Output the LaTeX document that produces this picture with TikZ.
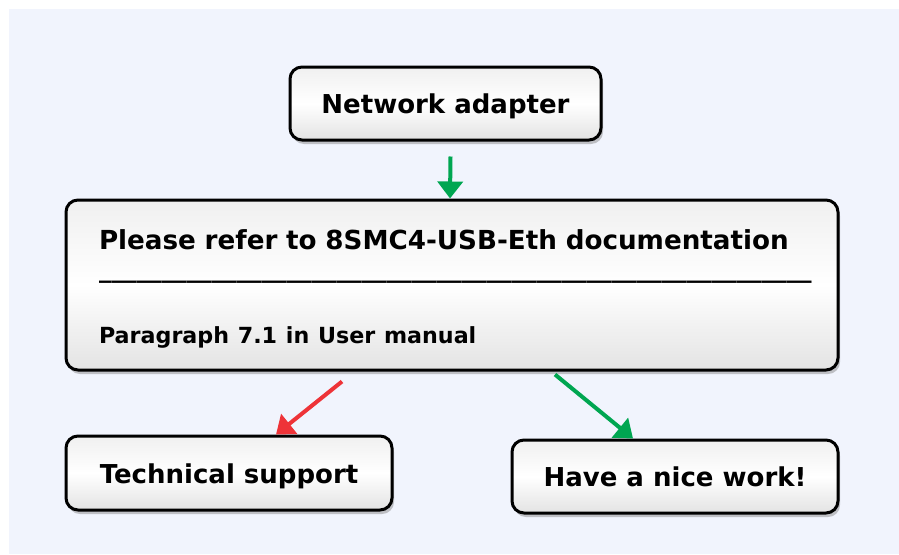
\documentclass[tikz,border=0pt]{standalone}
\usepackage{fontspec}
\setmainfont{DejaVu Sans}
\usetikzlibrary{arrows.meta}
\usetikzlibrary{positioning}
\usetikzlibrary{shadows}
\usepackage{xcolor}
\definecolor{paleblue}{HTML}{F1F4FD}
\definecolor{okgreen}{HTML}{00A651}
\definecolor{failred}{HTML}{EE3338}
\newcommand{\sepline}{\_\_\_\_\_\_\_\_\_\_\_\_\_\_\_\_\_\_\_\_\_\_\_\_\_\_\_\_\_\_\_\_\_\_\_\_\_\_\_\_\_\_\_\_\_\_\_\_\_\_\_\_\_\_\_\_\_}

\begin{document}
\begin{tikzpicture}[
        x=1pt, y=1pt,
        box/.style={draw=black, line width=3pt, rounded corners=12pt,
          top color=black!6, bottom color=black!11, middle color=white,
          drop shadow={shadow xshift=2pt, shadow yshift=-4pt, opacity=0.45},
          font=\bfseries\fontsize{26}{30}\selectfont, inner sep=0pt},
        smallbox/.style={box, minimum width=326pt, minimum height=73pt,
          text height=26pt, text depth=6pt},
        arr/.style={line width=4pt, -{Triangle[width=25pt, length=17pt]}},
        okarr/.style={arr, draw=okgreen, fill=okgreen},
        failarr/.style={arr, draw=failred, fill=failred},
      ]

      \useasboundingbox (0,0) rectangle (899,-554);
      \fill[paleblue] (9,-9) rectangle (899,-554);

      % === Boxes ===
      \node[smallbox, minimum width=311pt] (adapter)
        at (445.5,-103.5) {Network adapter};

      \node[box, minimum width=772pt, minimum height=170pt, text width=706pt,
        align=left, font=\bfseries\fontsize{26.2}{30}\selectfont] (refer) at (452,-285) {%
        \rule{0pt}{28pt}Please refer to 8SMC4-USB-Eth documentation\\[-2pt]
        {\fontsize{25}{30}\selectfont\sepline}\\[36pt]
        {\fontsize{22.2}{25}\selectfont Paragraph 7.1 in User manual}};

      \node[smallbox, minimum height=74pt] (support)
        at (229,-473) {Technical support};
      \node[smallbox] (nicework)
        at (675,-476.5) {Have a nice work!};

      % === Arrows ===
      \draw[okarr] ([xshift=5pt, yshift=-15pt]adapter.south) -- ([xshift=-2pt]refer.north);
      \draw[failarr] ([xshift=-110pt, yshift=-10pt]refer.south) -- ([xshift=47pt]support.north);
      \draw[okarr] ([xshift=103pt, yshift=-3pt]refer.south) -- ([xshift=-42pt]nicework.north);

      \end{tikzpicture}
\end{document}
